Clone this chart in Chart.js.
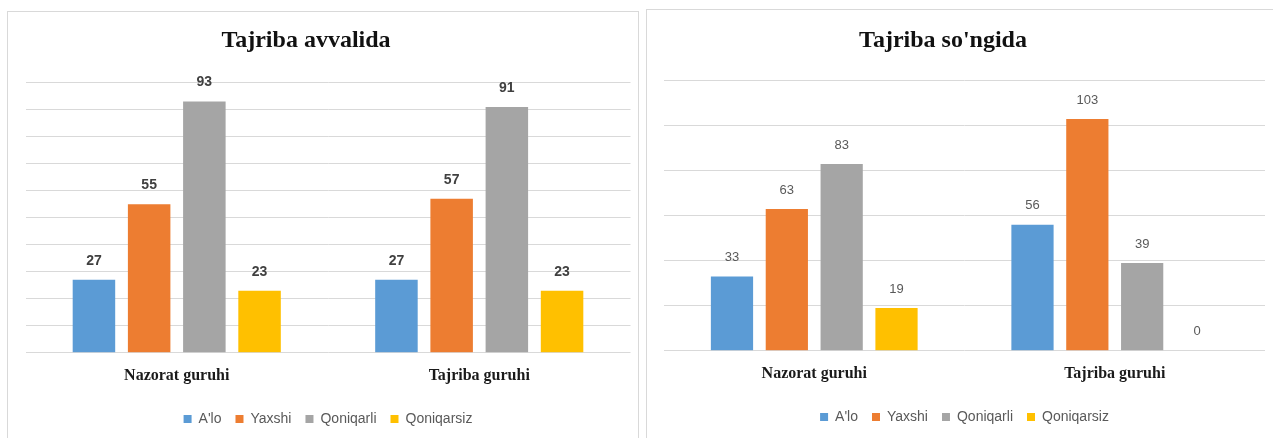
<!DOCTYPE html>
<html>
<head>
<meta charset="utf-8">
<script src="https://cdn.jsdelivr.net/npm/chart.js@4"></script>
<style>
  body { margin: 0; background: #fff; width: 1273px; height: 438px; overflow: hidden; position: relative; }
  .panel { position: absolute; border: 1px solid #d9d9d9; background: #fff; }
  .panel canvas { display: block; }
  .title { position: absolute; width: 400px; text-align: center; font: bold 24px "Liberation Serif", serif; line-height: 28px; color: #111; }
</style>
</head>
<body>
<div class="panel" style="left:7px;top:11px;width:630px;height:450px">
  <canvas id="before" width="628" height="440"></canvas>
</div>
<div class="panel" style="left:646px;top:9px;width:640px;height:450px">
  <canvas id="after" width="626" height="440"></canvas>
</div>
<div class="title" style="left:106px;top:25px">Tajriba avvalida</div>
<div class="title" style="left:743px;top:25px">Tajriba so'ngida</div>
<script>
// guruhlar va baholar
const groups = ['Nazorat guruhi', 'Tajriba guruhi'];
const grades = ["A'lo", 'Yaxshi', 'Qoniqarli', 'Qoniqarsiz'];
const colors = ['#5B9BD5', '#ED7D31', '#A5A5A5', '#FFC000'];

// Tajriba avvalida (har bir baho uchun: nazorat, tajriba)
const beforeAlo = [27, 27];
const beforeYaxshi = [55, 57];
const beforeQoniqarli = [93, 91];
const beforeQoniqarsiz = [23, 23];

// Tajriba so'ngida
const afterAlo = [33, 56];
const afterYaxshi = [63, 103];
const afterQoniqarli = [83, 39];
const afterQoniqarsiz = [19, 0];

Chart.defaults.font.family = '"Liberation Sans", Arial, sans-serif';

// bar ustidagi sonlar
const valueLabels = {
  id: 'valueLabels',
  afterDatasetsDraw(chart, args, opts) {
    const ctx = chart.ctx;
    ctx.save();
    ctx.font = opts.font;
    ctx.fillStyle = opts.color;
    ctx.textAlign = 'center';
    ctx.textBaseline = 'middle';
    chart.data.datasets.forEach((ds, i) => {
      chart.getDatasetMeta(i).data.forEach((bar, j) => {
        ctx.fillText(ds.data[j], bar.x, bar.y - 19);
      });
    });
    ctx.restore();
  }
};

function makeChart(id, series, yMax, yStep, labelFont, labelColor, pad) {
  const ctx = document.getElementById(id).getContext('2d');
  return new Chart(ctx, {
    type: 'bar',
    data: {
      labels: groups,
      datasets: series.map((data, i) => ({
        label: grades[i],
        data,
        backgroundColor: colors[i],
        categoryPercentage: 0.73,
        barPercentage: 0.77,
      })),
    },
    options: {
      responsive: false,
      animation: false,
      layout: { padding: pad },
      plugins: {
        title: { display: false },
        tooltip: { enabled: false },
        legend: {
          position: 'bottom',
          labels: {
            boxWidth: 8,
            boxHeight: 8,
            padding: 14,
            color: '#595959',
            font: { size: 14 },
          },
        },
        valueLabels: { font: labelFont, color: labelColor },
      },
      scales: {
        x: {
          grid: { display: false, drawTicks: false },
          border: { display: false },
          ticks: {
            padding: 13,
            color: '#1a1a1a',
            font: { family: '"Liberation Serif", serif', size: 16, weight: 'bold' },
          },
        },
        y: {
          min: 0,
          max: yMax,
          ticks: { display: false, stepSize: yStep },
          grid: { color: '#d9d9d9', drawTicks: false },
          border: { display: false },
        },
      },
    },
    plugins: [valueLabels],
  });
}

makeChart('before', [beforeAlo, beforeYaxshi, beforeQoniqarli, beforeQoniqarsiz],
  100, 10, 'bold 14px "Liberation Sans", Arial, sans-serif', '#404040',
  { left: 17.5, right: 5.5, top: 70.7, bottom: 16 });

makeChart('after', [afterAlo, afterYaxshi, afterQoniqarli, afterQoniqarsiz],
  120, 20, '13px "Liberation Sans", Arial, sans-serif', '#595959',
  { left: 17, right: 8, top: 70.7, bottom: 16 });
</script>
</body>
</html>
